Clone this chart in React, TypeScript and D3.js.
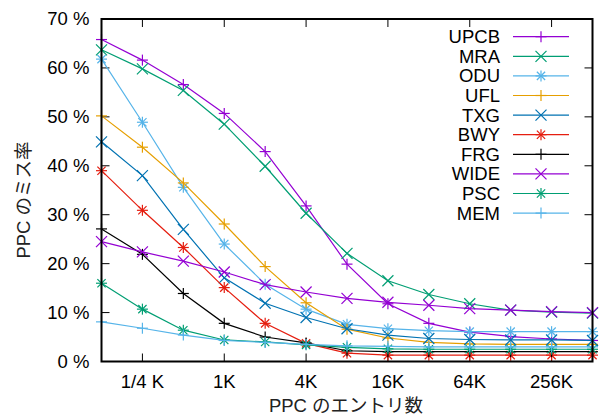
import React, { useRef, useEffect } from 'react';
import * as d3 from 'd3';

// PPC entry counts (128 .. 512K)
const entries = [128, 256, 512, 1024, 2048, 4096, 8192, 16384, 32768, 65536, 131072, 262144, 524288];

const xTickValues = [256, 1024, 4096, 16384, 65536, 262144];
const xTickLabels = ['1/4 K', '1K', '4K', '16K', '64K', '256K'];
const yTickValues = [0, 10, 20, 30, 40, 50, 60, 70];

const seriesNames = ['UPCB', 'MRA', 'ODU', 'UFL', 'TXG', 'BWY', 'FRG', 'WIDE', 'PSC', 'MEM'];
const seriesColors = ['#9400d3', '#009e73', '#56b4e9', '#e69f00', '#0072b2', '#e51e10', '#000000', '#9400d3', '#009e73', '#56b4e9'];
const seriesMarkers = ['plus', 'cross', 'star', 'plus', 'cross', 'star', 'plus', 'cross', 'star', 'plus'];

// miss rate (%)
const upcb = [65.8, 61.6, 56.6, 50.7, 42.9, 31.8, 19.9, 11.8, 7.8, 6.0, 5.1, 4.6, 4.3];
const mra = [63.7, 59.8, 55.4, 48.5, 39.9, 30.3, 22.1, 16.5, 13.7, 11.8, 10.5, 10.1, 9.9];
const odu = [61.8, 48.9, 35.6, 24.0, 15.8, 10.7, 7.6, 6.7, 6.3, 6.1, 6.1, 6.1, 6.1];
const ufl = [50.2, 43.8, 36.5, 28.1, 19.4, 12.0, 6.6, 4.8, 3.9, 3.6, 3.5, 3.5, 3.5];
const txg = [44.9, 38.0, 27.0, 17.1, 11.9, 9.0, 6.7, 5.4, 4.7, 4.5, 4.4, 4.4, 4.3];
const bwy = [39.0, 30.9, 23.3, 15.1, 7.8, 3.7, 1.7, 1.3, 1.3, 1.3, 1.3, 1.3, 1.3];
const frg = [27.1, 21.9, 13.9, 7.8, 5.0, 3.8, 2.2, 2.0, 2.0, 2.0, 2.0, 2.0, 2.0];
const wide = [24.5, 22.4, 20.5, 18.3, 15.7, 14.2, 12.9, 12.1, 11.5, 10.8, 10.5, 10.2, 10.0];
const psc = [16.0, 10.7, 6.4, 4.4, 4.0, 3.4, 2.9, 2.6, 2.5, 2.5, 2.5, 2.5, 2.5];
const mem = [8.1, 6.8, 5.4, 4.3, 3.9, 3.5, 3.2, 3.1, 3.0, 3.0, 3.0, 3.0, 3.0];

const seriesValues = [upcb, mra, odu, ufl, txg, bwy, frg, wide, psc, mem];

const FONT = '"Liberation Sans", Arial, "Noto Sans CJK JP", sans-serif';

const drawMarker = (g, type, x, y, color) => {
    const s = 5.5;
    const segs = [];
    if (type === 'plus' || type === 'star') {
        segs.push([x - s, y, x + s, y], [x, y - s, x, y + s]);
    }
    if (type === 'cross' || type === 'star') {
        const c = type === 'star' ? s * 0.75 : s;
        segs.push([x - c, y - c, x + c, y + c], [x - c, y + c, x + c, y - c]);
    }
    segs.forEach(d => {
        g.append('line')
            .attr('x1', d[0]).attr('y1', d[1])
            .attr('x2', d[2]).attr('y2', d[3])
            .attr('stroke', color)
            .attr('stroke-width', 1.2);
    });
};

const App = () => {
    const svgRef = useRef(null);

    useEffect(() => {
        const svg = d3.select(svgRef.current);
        svg.selectAll('*').remove();

        const left = 101.5, right = 592.5, top = 19, bottom = 361.5;

        const x = d3.scaleLog().base(2).domain([128, 524288]).range([left, right]);
        const y = d3.scaleLinear().domain([0, 70]).range([bottom, top]);

        const tick = 8;
        const axes = svg.append('g');

        // y ticks (left + mirrored right)
        yTickValues.forEach(v => {
            axes.append('line').attr('x1', left).attr('x2', left + tick)
                .attr('y1', y(v)).attr('y2', y(v)).attr('stroke', '#000').attr('stroke-width', 1);
            axes.append('line').attr('x1', right).attr('x2', right - tick)
                .attr('y1', y(v)).attr('y2', y(v)).attr('stroke', '#000').attr('stroke-width', 1);
            axes.append('text')
                .attr('x', 89.5).attr('y', y(v))
                .attr('dy', '0.35em')
                .attr('text-anchor', 'end')
                .attr('font-family', FONT).attr('font-size', 18.5)
                .text(`${v} %`);
        });

        // x ticks (bottom + mirrored top)
        xTickValues.forEach((v, i) => {
            axes.append('line').attr('x1', x(v)).attr('x2', x(v))
                .attr('y1', bottom).attr('y2', bottom - tick).attr('stroke', '#000').attr('stroke-width', 1);
            axes.append('line').attr('x1', x(v)).attr('x2', x(v))
                .attr('y1', top).attr('y2', top + tick).attr('stroke', '#000').attr('stroke-width', 1);
            axes.append('text')
                .attr('x', x(v)).attr('y', 388)
                .attr('text-anchor', 'middle')
                .attr('font-family', FONT).attr('font-size', 18.5)
                .text(xTickLabels[i]);
        });

        // lines + points
        const line = d3.line()
            .x(d => x(d[0]))
            .y(d => y(d[1]));

        const plot = svg.append('g');
        seriesValues.forEach((vals, si) => {
            const pts = entries.map((e, i) => [e, vals[i]]);
            plot.append('path')
                .attr('d', line(pts))
                .attr('fill', 'none')
                .attr('stroke', seriesColors[si])
                .attr('stroke-width', 1.2);
            pts.forEach(p => drawMarker(plot, seriesMarkers[si], x(p[0]), y(p[1]), seriesColors[si]));
        });

        // legend
        const legend = svg.append('g');
        seriesNames.forEach((name, i) => {
            const ly = 36.7 + i * 19.6;
            legend.append('text')
                .attr('x', 500).attr('y', ly)
                .attr('dy', '0.35em')
                .attr('text-anchor', 'end')
                .attr('font-family', FONT).attr('font-size', 18.5)
                .text(name);
            legend.append('line')
                .attr('x1', 513).attr('x2', 569)
                .attr('y1', ly).attr('y2', ly)
                .attr('stroke', seriesColors[i]).attr('stroke-width', 1.2);
            drawMarker(legend, seriesMarkers[i], 541, ly, seriesColors[i]);
        });

        // frame
        svg.append('rect')
            .attr('x', left).attr('y', top)
            .attr('width', right - left).attr('height', bottom - top)
            .attr('fill', 'none').attr('stroke', '#000').attr('stroke-width', 2);

        // axis titles
        svg.append('text')
            .attr('x', 346).attr('y', 412)
            .attr('text-anchor', 'middle')
            .attr('font-family', FONT).attr('font-size', 18.5)
            .attr('fill', '#222')
            .text('PPC のエントリ数');

        svg.append('text')
            .attr('transform', 'translate(30, 200) rotate(-90)')
            .attr('text-anchor', 'middle')
            .attr('font-family', FONT).attr('font-size', 18.5)
            .attr('fill', '#222')
            .text('PPC のミス率');
    }, []);

    return (
        <svg ref={svgRef} width="602" height="419"
            style={{ position: 'absolute', left: 0, top: 0, background: '#fff' }} />
    );
};

export default App;
